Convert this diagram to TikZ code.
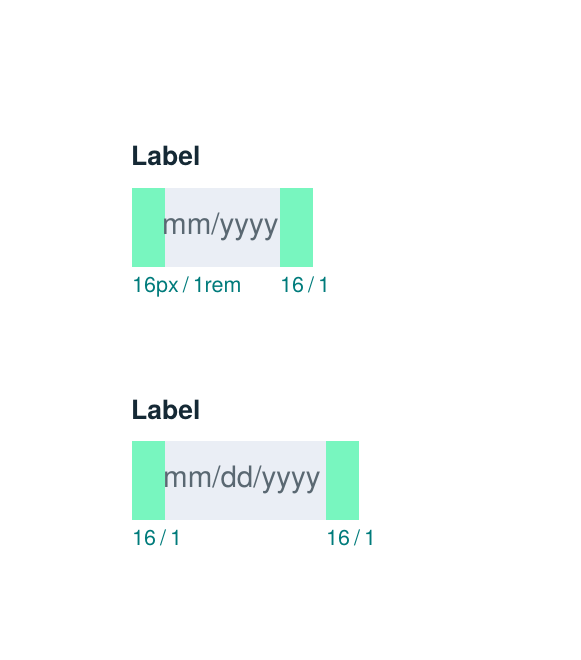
\documentclass[tikz,border=0pt]{standalone}
\usepackage{fontspec}
\setmainfont{TeX Gyre Heros}
\usetikzlibrary{positioning}
\definecolor{padgreen}{HTML}{78F6BF}
\definecolor{fieldgray}{HTML}{EAEEF5}
\definecolor{hintgray}{HTML}{5A6872}
\definecolor{labelink}{HTML}{152935}
\definecolor{sizeteal}{HTML}{007B7B}
\newcommand\sizefont{\fontsize{21.5}{23}\selectfont\spaceskip 4pt plus 1pt\relax}
\tikzset{
  fieldbox/.style={fill=fieldgray, draw=none},
  padbox/.style={fill=padgreen, draw=none},
  labeltext/.style={anchor=base west, inner sep=0pt, text=labelink, font=\fontsize{26.5}{28}\selectfont\bfseries},
  hinttext/.style={anchor=base west, inner sep=0pt, text=hintgray, font=\fontsize{29.5}{31}\selectfont},
  sizetext/.style={anchor=base west, inner sep=0pt, text=sizeteal, font=\sizefont}
}
\begin{document}
\begin{tikzpicture}[x=1pt,y=-1pt]
\useasboundingbox (0,0) rectangle (580,660);
% month / year field
\node[labeltext] (labA) at (131,166) {Label};
\fill[fieldbox] (132,188) rectangle (313,267);
\fill[padbox] (132,188) rectangle (165,267);
\fill[padbox] (280,188) rectangle (313,267);
\node[hinttext] (hintA) at (162,234) {mm/yyyy};
\node[sizetext] (padAl) at (132,292) {16px / 1rem};
\node[sizetext] (padAr) at (280,292) {16 / 1};
% full date field
\node[labeltext] (labB) at (131,419) {Label};
\fill[fieldbox] (132,441) rectangle (359,520);
\fill[padbox] (132,441) rectangle (165,520);
\fill[padbox] (326,441) rectangle (359,520);
\node[hinttext] (hintB) at (163,487) {mm/dd/yyyy};
\node[sizetext] (padBl) at (132,545) {16 / 1};
\node[sizetext] (padBr) at (326,545) {16 / 1};
\end{tikzpicture}
\end{document}
